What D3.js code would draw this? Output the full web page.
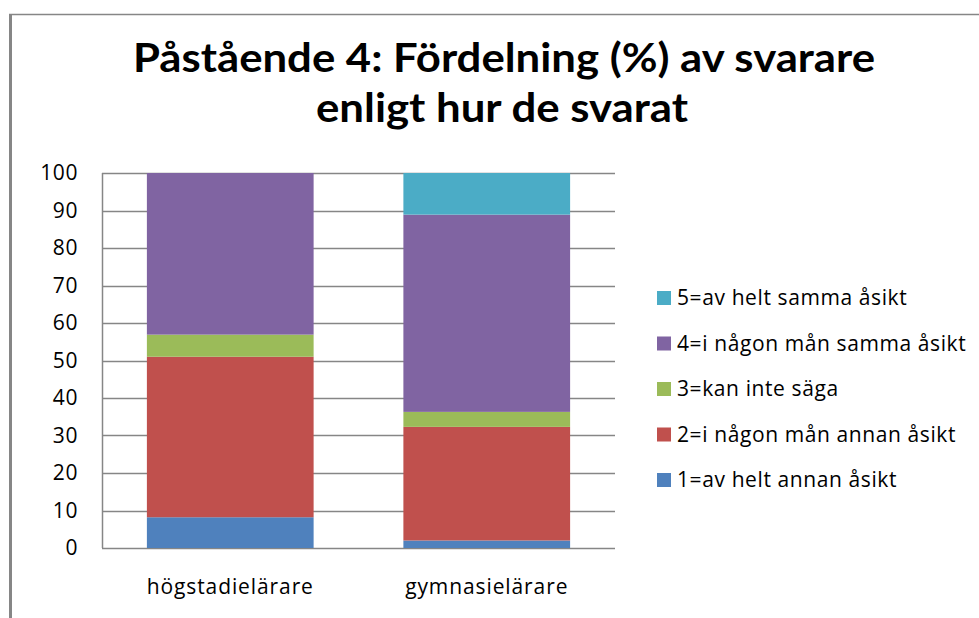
<!DOCTYPE html>
<html>
<head>
<meta charset="utf-8">
<script src="https://cdn.jsdelivr.net/npm/d3@7"></script>
<style>
  body { margin: 0; background: #fff; }
  text { font-family: "Open Sans", Lato, sans-serif; }
</style>
</head>
<body>
<svg id="chart" width="979" height="618"></svg>
<script>
// categories and series (values in %)
var categories = ['högstadielärare', 'gymnasielärare'];
var seriesNames = ['1=av helt annan åsikt', '2=i någon mån annan åsikt', '3=kan inte säga',
                   '4=i någon mån samma åsikt', '5=av helt samma åsikt'];
var seriesColors = ['#4f81bd', '#c0504d', '#9bbb59', '#8064a2', '#4bacc6'];
var s1 = [8.2, 2.0];
var s2 = [42.8, 30.3];
var s3 = [5.9, 4.0];
var s4 = [43.1, 52.6];
var s5 = [0, 11.1];
var yTicks = [0, 10, 20, 30, 40, 50, 60, 70, 80, 90, 100];

var svg = d3.select('#chart');

// outer frame
svg.append('line').attr('x1', 10.5).attr('x2', 10.5).attr('y1', 14).attr('y2', 618)
	.attr('stroke', '#868686').attr('stroke-width', 3);
svg.append('line').attr('x1', 9).attr('x2', 979).attr('y1', 14.5).attr('y2', 14.5)
	.attr('stroke', '#868686').attr('stroke-width', 1.5);

// title
var title = svg.append('text')
	.attr('text-anchor', 'middle')
	.style('font-family', 'Lato, sans-serif')
	.style('font-weight', 'bold')
	.style('font-size', '41px')
	.attr('fill', '#000');
title.append('tspan').attr('x', 504).attr('y', 72)
	.attr('textLength', 742).attr('lengthAdjust', 'spacingAndGlyphs')
	.text('Påstående 4: Fördelning (%) av svarare');
title.append('tspan').attr('x', 502).attr('y', 122)
	.attr('textLength', 372).attr('lengthAdjust', 'spacingAndGlyphs')
	.text('enligt hur de svarat');

var plotLeft = 102, plotRight = 615, plotTop = 173, plotBottom = 548;

var x = d3.scaleBand().domain(categories).range([plotLeft, plotRight]).paddingInner(0.35).paddingOuter(0.175);
var y = d3.scaleLinear().domain([0, 100]).range([plotBottom, plotTop]);

// gridlines
svg.append('g').selectAll('line').data(yTicks).join('line')
	.attr('x1', plotLeft).attr('x2', plotRight)
	.attr('y1', function (d) { return Math.round(y(d)) + 0.5; })
	.attr('y2', function (d) { return Math.round(y(d)) + 0.5; })
	.attr('stroke', '#868686').attr('stroke-width', 1.5);

// stacked bars
var rows = categories.map(function (c, i) {
	return { cat: c, s1: s1[i], s2: s2[i], s3: s3[i], s4: s4[i], s5: s5[i] };
});
var stack = d3.stack().keys(['s1', 's2', 's3', 's4', 's5']);
var layers = stack(rows);

svg.append('g').selectAll('g').data(layers).join('g')
	.attr('fill', function (d, i) { return seriesColors[i]; })
	.selectAll('rect').data(function (d) { return d; }).join('rect')
	.attr('x', function (d) { return x(d.data.cat); })
	.attr('width', x.bandwidth())
	.attr('y', function (d) { return y(d[1]); })
	.attr('height', function (d) { return y(d[0]) - y(d[1]); });

// y axis line
svg.append('line').attr('x1', plotLeft + 0.5).attr('x2', plotLeft + 0.5).attr('y1', plotTop).attr('y2', plotBottom)
	.attr('stroke', '#868686').attr('stroke-width', 1.5);

// y axis labels
var yAxis = d3.axisLeft(y).tickValues(yTicks).tickSize(0).tickPadding(24);
var gy = svg.append('g').attr('transform', 'translate(' + plotLeft + ',0)').call(yAxis);
gy.select('.domain').remove();
gy.selectAll('text').style('font-size', '21px').style('letter-spacing', '0.6px')
	.attr('fill', '#000').style('font-family', '"Open Sans", sans-serif');

// x axis labels
var xAxis = d3.axisBottom(x).tickSize(0).tickPadding(31);
var gx = svg.append('g').attr('transform', 'translate(0,' + plotBottom + ')').call(xAxis);
gx.select('.domain').remove();
gx.selectAll('text').style('font-size', '21px').style('letter-spacing', '0.9px')
	.attr('fill', '#000').style('font-family', '"Open Sans", sans-serif');

// legend (top to bottom: series 5 .. 1)
var legendOrder = [4, 3, 2, 1, 0];
var lg = svg.append('g').selectAll('g').data(legendOrder).join('g')
	.attr('transform', function (d, i) { return 'translate(657,' + (291 + i * 45.5) + ')'; });
lg.append('rect').attr('width', 14).attr('height', 14).attr('fill', function (d) { return seriesColors[d]; });
lg.append('text').attr('x', 20).attr('y', 7).attr('dy', '0.35em')
	.style('font-size', '21px').style('letter-spacing', '0.6px').attr('fill', '#000')
	.text(function (d) { return seriesNames[d]; });
</script>
</body>
</html>
